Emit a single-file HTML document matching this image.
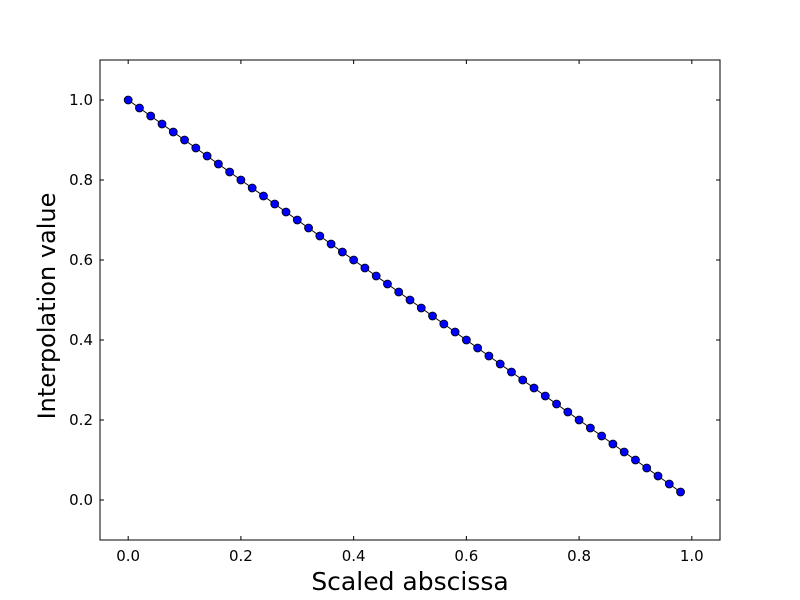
<!DOCTYPE html>
<html><head><meta charset="utf-8"><style>
html,body{margin:0;padding:0;background:#fff;}
svg{display:block;font-family:"DejaVu Sans","Liberation Sans",sans-serif;}
</style></head><body>
<svg id="chart" width="800" height="600" viewBox="0 0 800 600">
<rect x="0" y="0" width="800" height="600" fill="#fff"/>
<g id="ticks"></g>
<path id="line" fill="none" stroke="#000" stroke-width="1"/>
<g id="points"></g>
<rect x="100" y="60" width="620" height="480" fill="none" stroke="#000" stroke-width="1"/>
<text x="410" y="590" text-anchor="middle" font-size="25">Scaled abscissa</text>
<text x="55" y="306" text-anchor="middle" font-size="24" transform="rotate(-90 55 306)">Interpolation value</text>
</svg>
<script>
const xValues = [0.00,0.02,0.04,0.06,0.08,0.10,0.12,0.14,0.16,0.18,0.20,0.22,0.24,0.26,0.28,0.30,0.32,0.34,0.36,0.38,0.40,0.42,0.44,0.46,0.48,0.50,0.52,0.54,0.56,0.58,0.60,0.62,0.64,0.66,0.68,0.70,0.72,0.74,0.76,0.78,0.80,0.82,0.84,0.86,0.88,0.90,0.92,0.94,0.96,0.98];
const yValues = [1.00,0.98,0.96,0.94,0.92,0.90,0.88,0.86,0.84,0.82,0.80,0.78,0.76,0.74,0.72,0.70,0.68,0.66,0.64,0.62,0.60,0.58,0.56,0.54,0.52,0.50,0.48,0.46,0.44,0.42,0.40,0.38,0.36,0.34,0.32,0.30,0.28,0.26,0.24,0.22,0.20,0.18,0.16,0.14,0.12,0.10,0.08,0.06,0.04,0.02];
const xTicks = [0.0,0.2,0.4,0.6,0.8,1.0];
const xTickLabels = ["0.0","0.2","0.4","0.6","0.8","1.0"];
const yTicks = [0.0,0.2,0.4,0.6,0.8,1.0];
const yTickLabels = ["0.0","0.2","0.4","0.6","0.8","1.0"];

const L=100,R=720,T=60,B=540, xMin=-0.05,xMax=1.05,yMin=-0.1,yMax=1.1;
function sx(v){return L+(v-xMin)/(xMax-xMin)*(R-L);}
function sy(v){return B-(v-yMin)/(yMax-yMin)*(B-T);}
const NS="http://www.w3.org/2000/svg";
const tg=document.getElementById('ticks');
function mk(tag,attrs,parent){const e=document.createElementNS(NS,tag);for(const k in attrs)e.setAttribute(k,attrs[k]);parent.appendChild(e);return e;}
xTicks.forEach((v,i)=>{
  const x=sx(v);
  const t1=mk('line',{x1:x,x2:x,y1:B,y2:B-4,stroke:'#000'},tg);
  
  
  const t2=mk('line',{x1:x,x2:x,y1:T,y2:T+4,stroke:'#000'},tg);
  
  
  const lb=mk('text',{x:x,y:B+21,'text-anchor':'middle','font-size':'15'},tg);
  lb.textContent=xTickLabels[i];
  
  
});
yTicks.forEach((v,i)=>{
  const y=sy(v);
  const t1=mk('line',{x1:L,x2:L+4,y1:y,y2:y,stroke:'#000'},tg);
  
  
  const t2=mk('line',{x1:R,x2:R-4,y1:y,y2:y,stroke:'#000'},tg);
  
  
  const lb=mk('text',{x:L-7,y:y+5,'text-anchor':'end','font-size':'15'},tg);
  lb.textContent=yTickLabels[i];
  
  
});
document.getElementById('line').setAttribute('d',xValues.map((v,i)=>(i?'L':'M')+sx(v)+' '+sy(yValues[i])).join(' '));
const pg=document.getElementById('points');
xValues.forEach((v,i)=>{
  const c=mk('circle',{cx:sx(v),cy:sy(yValues[i]),r:4,fill:'#0000ff',stroke:'#000','stroke-width':'0.8'},pg);
  
  
});
</script>
</body></html>
